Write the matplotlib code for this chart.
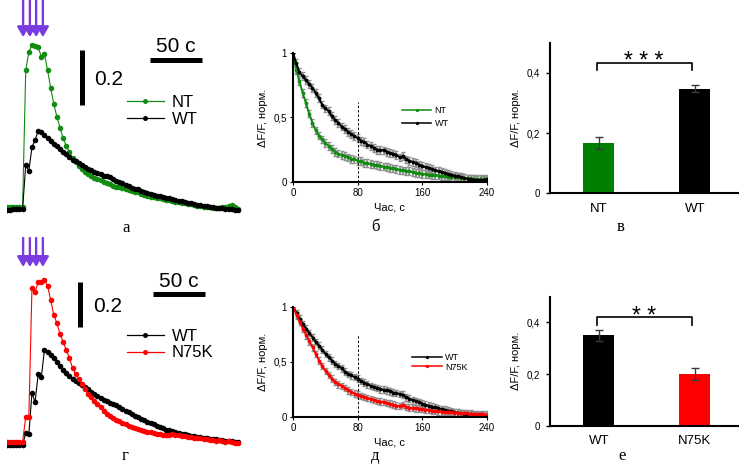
import numpy as np
import matplotlib
matplotlib.use('Agg')
import matplotlib.pyplot as plt
from matplotlib.lines import Line2D

W, H = 739, 465
plt.rcParams['font.family'] = ['Liberation Sans', 'DejaVu Sans']

# ---------------- data ----------------
trace_t = np.arange(0, 223, 3)          # s
stim_t = [15.5, 22, 28, 34.5]           # stimulation times, s

nt_trace = [0.007, 0.007, 0.007, 0.007, 0.007, 0.007,
            0.505, 0.571, 0.596, 0.593, 0.589, 0.553, 0.564, 0.505, 0.440, 0.382,
            0.335, 0.295, 0.258, 0.229, 0.207, 0.185, 0.171, 0.156, 0.145, 0.135,
            0.127, 0.120, 0.113, 0.109, 0.105, 0.098, 0.095, 0.091, 0.084, 0.080,
            0.080, 0.076, 0.073, 0.069, 0.065, 0.062, 0.062, 0.055, 0.051, 0.047,
            0.044, 0.044, 0.040, 0.040, 0.036, 0.033, 0.033, 0.029, 0.025, 0.025,
            0.022, 0.022, 0.018, 0.018, 0.015, 0.011, 0.011, 0.007, 0.007, 0.007,
            0.004, 0.004, 0.004, 0.007, 0.007, 0.011, 0.015, 0.007, 0.000]
wt_trace_a = [-0.004, -0.004, 0, 0, 0, 0,
              0.160, 0.138, 0.225, 0.251, 0.284, 0.280, 0.269, 0.258, 0.247, 0.236,
              0.229, 0.218, 0.207, 0.200, 0.189, 0.178, 0.175, 0.167, 0.160, 0.153,
              0.145, 0.142, 0.135, 0.131, 0.127, 0.120, 0.120, 0.116, 0.109, 0.102,
              0.098, 0.095, 0.087, 0.084, 0.076, 0.073, 0.073, 0.065, 0.062, 0.058,
              0.055, 0.051, 0.047, 0.047, 0.044, 0.040, 0.040, 0.036, 0.033, 0.029,
              0.029, 0.025, 0.022, 0.022, 0.018, 0.015, 0.015, 0.011, 0.011, 0.007,
              0.007, 0.004, 0.004, 0.004, 0, 0, 0, -0.004, -0.004]
wt_trace_g = [-0.009, -0.009, -0.009, -0.009, -0.009, -0.009,
              0.044, 0.039, 0.219, 0.180, 0.303, 0.289, 0.408, 0.399, 0.386, 0.373,
              0.355, 0.338, 0.320, 0.307, 0.294, 0.281, 0.272, 0.263, 0.254, 0.246,
              0.237, 0.224, 0.215, 0.206, 0.197, 0.189, 0.184, 0.175, 0.171, 0.167,
              0.158, 0.149, 0.140, 0.136, 0.127, 0.118, 0.114, 0.105, 0.101, 0.092,
              0.088, 0.083, 0.075, 0.070, 0.066, 0.057, 0.057, 0.053, 0.048, 0.044,
              0.039, 0.039, 0.035, 0.031, 0.031, 0.026, 0.026, 0.022, 0.022, 0.018,
              0.018, 0.018, 0.013, 0.013, 0.009, 0.009, 0.009, 0.004, 0.004]
n75k_trace = [0.004, 0.004, 0.004, 0.004, 0.004, 0.004,
              0.114, 0.114, 0.680, 0.662, 0.706, 0.706, 0.715, 0.689, 0.627, 0.561,
              0.526, 0.478, 0.443, 0.408, 0.373, 0.329, 0.303, 0.281, 0.259, 0.237,
              0.215, 0.202, 0.184, 0.171, 0.158, 0.140, 0.127, 0.118, 0.110, 0.101,
              0.096, 0.088, 0.083, 0.075, 0.070, 0.066, 0.061, 0.057, 0.053, 0.048,
              0.048, 0.044, 0.039, 0.039, 0.035, 0.035, 0.035, 0.039, 0.035, 0.035,
              0.031, 0.031, 0.026, 0.026, 0.022, 0.022, 0.022, 0.018, 0.018, 0.013,
              0.013, 0.009, 0.013, 0.009, 0.004, 0.009, 0.004, 0, 0]

decay_t = np.arange(0, 241, 4)          # s
nt_decay = [1.00, 0.87, 0.78, 0.69, 0.61, 0.53, 0.46, 0.40, 0.36, 0.33,
            0.30, 0.28, 0.255, 0.235, 0.22, 0.21, 0.20, 0.19, 0.18, 0.175,
            0.165, 0.16, 0.15, 0.145, 0.14, 0.135, 0.13, 0.125, 0.12, 0.115,
            0.11, 0.105, 0.10, 0.095, 0.09, 0.087, 0.083, 0.077, 0.072, 0.068,
            0.063, 0.06, 0.058, 0.056, 0.052, 0.05, 0.047, 0.044, 0.042, 0.04,
            0.038, 0.036, 0.033, 0.03, 0.028, 0.026, 0.025, 0.024, 0.024, 0.025,
            0.026]
wt_decay_b = [1.00, 0.92, 0.85, 0.82, 0.79, 0.76, 0.73, 0.69, 0.65, 0.60,
              0.57, 0.55, 0.51, 0.48, 0.46, 0.43, 0.41, 0.39, 0.37, 0.355,
              0.34, 0.32, 0.31, 0.29, 0.28, 0.265, 0.25, 0.25, 0.245, 0.235,
              0.225, 0.22, 0.21, 0.19, 0.20, 0.175, 0.165, 0.155, 0.145, 0.135,
              0.125, 0.115, 0.108, 0.10, 0.09, 0.085, 0.078, 0.07, 0.062, 0.056,
              0.05, 0.043, 0.037, 0.031, 0.026, 0.022, 0.018, 0.016, 0.015, 0.015,
              0.02]
wt_decay_d = [1.00, 0.94, 0.89, 0.84, 0.80, 0.76, 0.72, 0.68, 0.645, 0.61,
              0.57, 0.54, 0.51, 0.48, 0.46, 0.44, 0.41, 0.39, 0.375, 0.36,
              0.345, 0.325, 0.31, 0.295, 0.28, 0.27, 0.26, 0.25, 0.245, 0.24,
              0.23, 0.22, 0.215, 0.205, 0.20, 0.175, 0.165, 0.15, 0.14, 0.13,
              0.12, 0.11, 0.10, 0.092, 0.084, 0.077, 0.07, 0.063, 0.055, 0.048,
              0.042, 0.037, 0.033, 0.029, 0.025, 0.021, 0.016, 0.013, 0.011, 0.012,
              0.015]
n75k_decay = [1.00, 0.92, 0.86, 0.80, 0.74, 0.685, 0.63, 0.57, 0.51, 0.46,
              0.415, 0.38, 0.345, 0.315, 0.295, 0.28, 0.26, 0.24, 0.225, 0.21,
              0.20, 0.19, 0.18, 0.17, 0.16, 0.152, 0.142, 0.138, 0.135, 0.125,
              0.118, 0.11, 0.10, 0.098, 0.105, 0.088, 0.083, 0.08, 0.077, 0.074,
              0.07, 0.064, 0.06, 0.056, 0.053, 0.05, 0.047, 0.044, 0.042, 0.04,
              0.038, 0.036, 0.034, 0.032, 0.03, 0.028, 0.026, 0.024, 0.022, 0.021,
              0.02]
decay_sem = 0.03
t_cut = 80
decay_xticks = [0, 80, 160, 240]
decay_yticks = [0, 0.5, 1]
decay_yticklabels = ['0', '0,5', '1']

bar_labels_top = ['NT', 'WT']
bar_means_top = [0.168, 0.347]
bar_err_top = [0.02, 0.011]
bar_labels_bot = ['WT', 'N75K']
bar_means_bot = [0.35, 0.20]
bar_err_bot = [0.022, 0.022]
bar_yticks = [0, 0.2, 0.4]
bar_yticklabels = ['0', '0,2', '0,4']

GREEN = '#118c11'
GREEN_BAR = '#008000'
RED = '#ff0000'
PURPLE = '#7a3be0'
YLAB = 'ΔF/F, норм.'
XLAB = 'Час, с'

fig = plt.figure(figsize=(W / 100, H / 100), dpi=100)


def px_axes(l, t, r, b):
    return fig.add_axes([l / W, 1 - b / H, (r - l) / W, (b - t) / H])


# ---------------- trace panels (а, г) ----------------
def trace_panel(top, bottom, base_px, px_unit, series, leg_y, vbar, hbar, txt50, txt02,
                arrow_y):
    ax = px_axes(7, top, 241, bottom)
    ax.set_xlim(0, 225)
    ax.set_ylim((base_px - bottom) / px_unit, (base_px - top) / px_unit)
    ax.axis('off')
    handles = []
    for vals, col, lab in series:
        ax.plot(trace_t, vals, color=col, lw=0.8, marker='o', ms=4.0, mew=0, zorder=3)
        handles.append(Line2D([], [], color=col, lw=0.9, marker='o', ms=3.6, mew=0))
    # stimuli arrows
    for s in stim_t:
        ax.annotate('', xy=(s, arrow_y[1]), xytext=(s, arrow_y[0]),
                    arrowprops=dict(arrowstyle='-|>,head_length=0.55,head_width=0.32',
                                    mutation_scale=11, color=PURPLE, lw=1.7,
                                    shrinkA=0, shrinkB=0),
                    annotation_clip=False)
    # scale bars
    ax.plot([vbar[0], vbar[0]], [vbar[1], vbar[1] + 0.2], color='k', lw=3.6,
            solid_capstyle='butt')
    ax.plot([hbar[0], hbar[0] + 50], [hbar[1], hbar[1]], color='k', lw=3.6,
            solid_capstyle='butt')
    ax.text(txt50[0], txt50[1], '50 с', ha='center', va='baseline', fontsize=15)
    ax.text(txt02[0], txt02[1], '0.2', ha='left', va='baseline', fontsize=15)
    lab_order = [s[2] for s in series]
    ax.legend(handles, lab_order, loc='center left',
              bbox_to_anchor=(127 / W, 1 - leg_y / H), bbox_transform=fig.transFigure,
              frameon=False, fontsize=12, handlelength=2.2, handletextpad=0.5,
              borderpad=0, borderaxespad=0, labelspacing=0.1, numpoints=1)
    return ax


trace_panel(0, 215, 209, 275,
            [(nt_trace, GREEN, 'NT'), (wt_trace_a, 'k', 'WT')],
            111, (72, 0.378), (137.5, 0.542), (162.5, 0.571), (83.7, 0.451),
            (0.76, 0.625))
trace_panel(232, 450, 443, 228,
            [(wt_trace_g, 'k', 'WT'), (n75k_trace, RED, 'N75K')],
            344.5, (70.2, 0.507), (140.4, 0.654), (165, 0.684), (82.4, 0.575),
            (0.899, 0.772))


# ---------------- decay panels (б, д) ----------------
def decay_panel(box, series, cut_top, leg_center, leg_spacing, xlab_y, ylab_x):
    ax = px_axes(*box)
    handles = []
    for vals, col, lab in series:
        ax.errorbar(decay_t, vals, yerr=decay_sem, fmt='none', ecolor='#8f8f8f',
                    elinewidth=1.2, capsize=1.4, capthick=1.0, zorder=2)
    for vals, col, lab in series:
        ax.plot(decay_t, vals, color=col, marker='o', ms=2.8, mew=0, lw=1.4, zorder=3)
        handles.append(Line2D([], [], color=col, lw=1.1, marker='o', ms=2.4, mew=0))
    ax.plot([t_cut, t_cut], [0, cut_top], color='k', lw=0.7, ls=(0, (2.5, 2)))
    ax.set_xlim(0, 240)
    ax.set_ylim(0, 1)
    ax.set_xticks(decay_xticks)
    ax.set_yticks(decay_yticks)
    ax.set_yticklabels(decay_yticklabels)
    for sp in ['top', 'right']:
        ax.spines[sp].set_visible(False)
    for sp in ['left', 'bottom']:
        ax.spines[sp].set_linewidth(1.5)
        ax.spines[sp].set_zorder(4)
    ax.tick_params(labelsize=7, length=2.5, width=0.8, pad=2)
    ax.set_xlabel(XLAB, fontsize=8)
    ax.xaxis.set_label_coords(0.5, xlab_y)
    ax.set_ylabel(YLAB, fontsize=8)
    ax.yaxis.set_label_coords(ylab_x, 0.5)
    ax.legend(handles, [s[2] for s in series], loc='center left',
              bbox_to_anchor=(leg_center[0] / W, 1 - leg_center[1] / H),
              bbox_transform=fig.transFigure, frameon=False, fontsize=6.5,
              handlelength=3.3, handletextpad=0.35, borderpad=0, borderaxespad=0,
              labelspacing=leg_spacing, numpoints=1)
    return ax


decay_panel((293, 53, 487, 182), [(nt_decay, GREEN, 'NT'), (wt_decay_b, 'k', 'WT')],
            0.62, (401.7, 117.3), 0.4, -0.16, -0.13)
decay_panel((293.3, 306.7, 486.7, 416.7),
            [(wt_decay_d, 'k', 'WT'), (n75k_decay, RED, 'N75K')],
            0.74, (412, 362.2), 0.08, -0.185, -0.13)


# ---------------- bar panels (в, е) ----------------
def bar_panel(box, labels, means, errs, colors, br_top, br_leg, stars, star_y):
    ax = px_axes(*box)
    x = np.arange(len(labels))
    ax.bar(x, means, width=0.32, color=colors, yerr=errs,
           error_kw=dict(ecolor='#3a3a3a', elinewidth=1.0, capsize=2.6, capthick=1.0))
    ax.plot([-0.015, -0.015, 0.97, 0.97], [br_leg, br_top, br_top, br_leg],
            color='k', lw=1.2)
    ax.text(0.47, star_y, stars, ha='center', va='baseline', fontsize=16.5)
    ax.set_xlim(-0.507, 1.46)
    ax.set_ylim(0, 0.5)
    ax.set_xticks(x)
    ax.set_xticklabels(labels, fontsize=9.5)
    ax.set_yticks(bar_yticks)
    ax.set_yticklabels(bar_yticklabels)
    for sp in ['top', 'right']:
        ax.spines[sp].set_visible(False)
    for sp in ['left', 'bottom']:
        ax.spines[sp].set_linewidth(1.5)
    ax.tick_params(axis='y', labelsize=7, length=3, width=1, pad=4)
    ax.tick_params(axis='x', length=0, pad=7)
    ax.set_ylabel(YLAB, fontsize=8)
    ax.yaxis.set_label_coords(-0.153, 0.5)
    return ax


bar_panel((550, 42.7, 739, 193.3), bar_labels_top, bar_means_top, bar_err_top,
          [GREEN_BAR, 'k'], 0.433, 0.411, '* * *', 0.416)
bar_panel((550, 296.7, 739, 425.7), bar_labels_bot, bar_means_bot, bar_err_bot,
          ['k', RED], 0.42, 0.39, '* *', 0.398)

# ---------------- panel letters ----------------
letters = [('а', 126, 232), ('б', 375, 231), ('в', 621, 231),
           ('г', 125, 460), ('д', 375, 460), ('е', 622, 460)]
for s, x, y in letters:
    fig.text(x / W, 1 - y / H, s, ha='center', va='baseline', fontsize=12,
             family=['Liberation Serif', 'DejaVu Serif'])

fig.savefig('out.png', dpi=100)
